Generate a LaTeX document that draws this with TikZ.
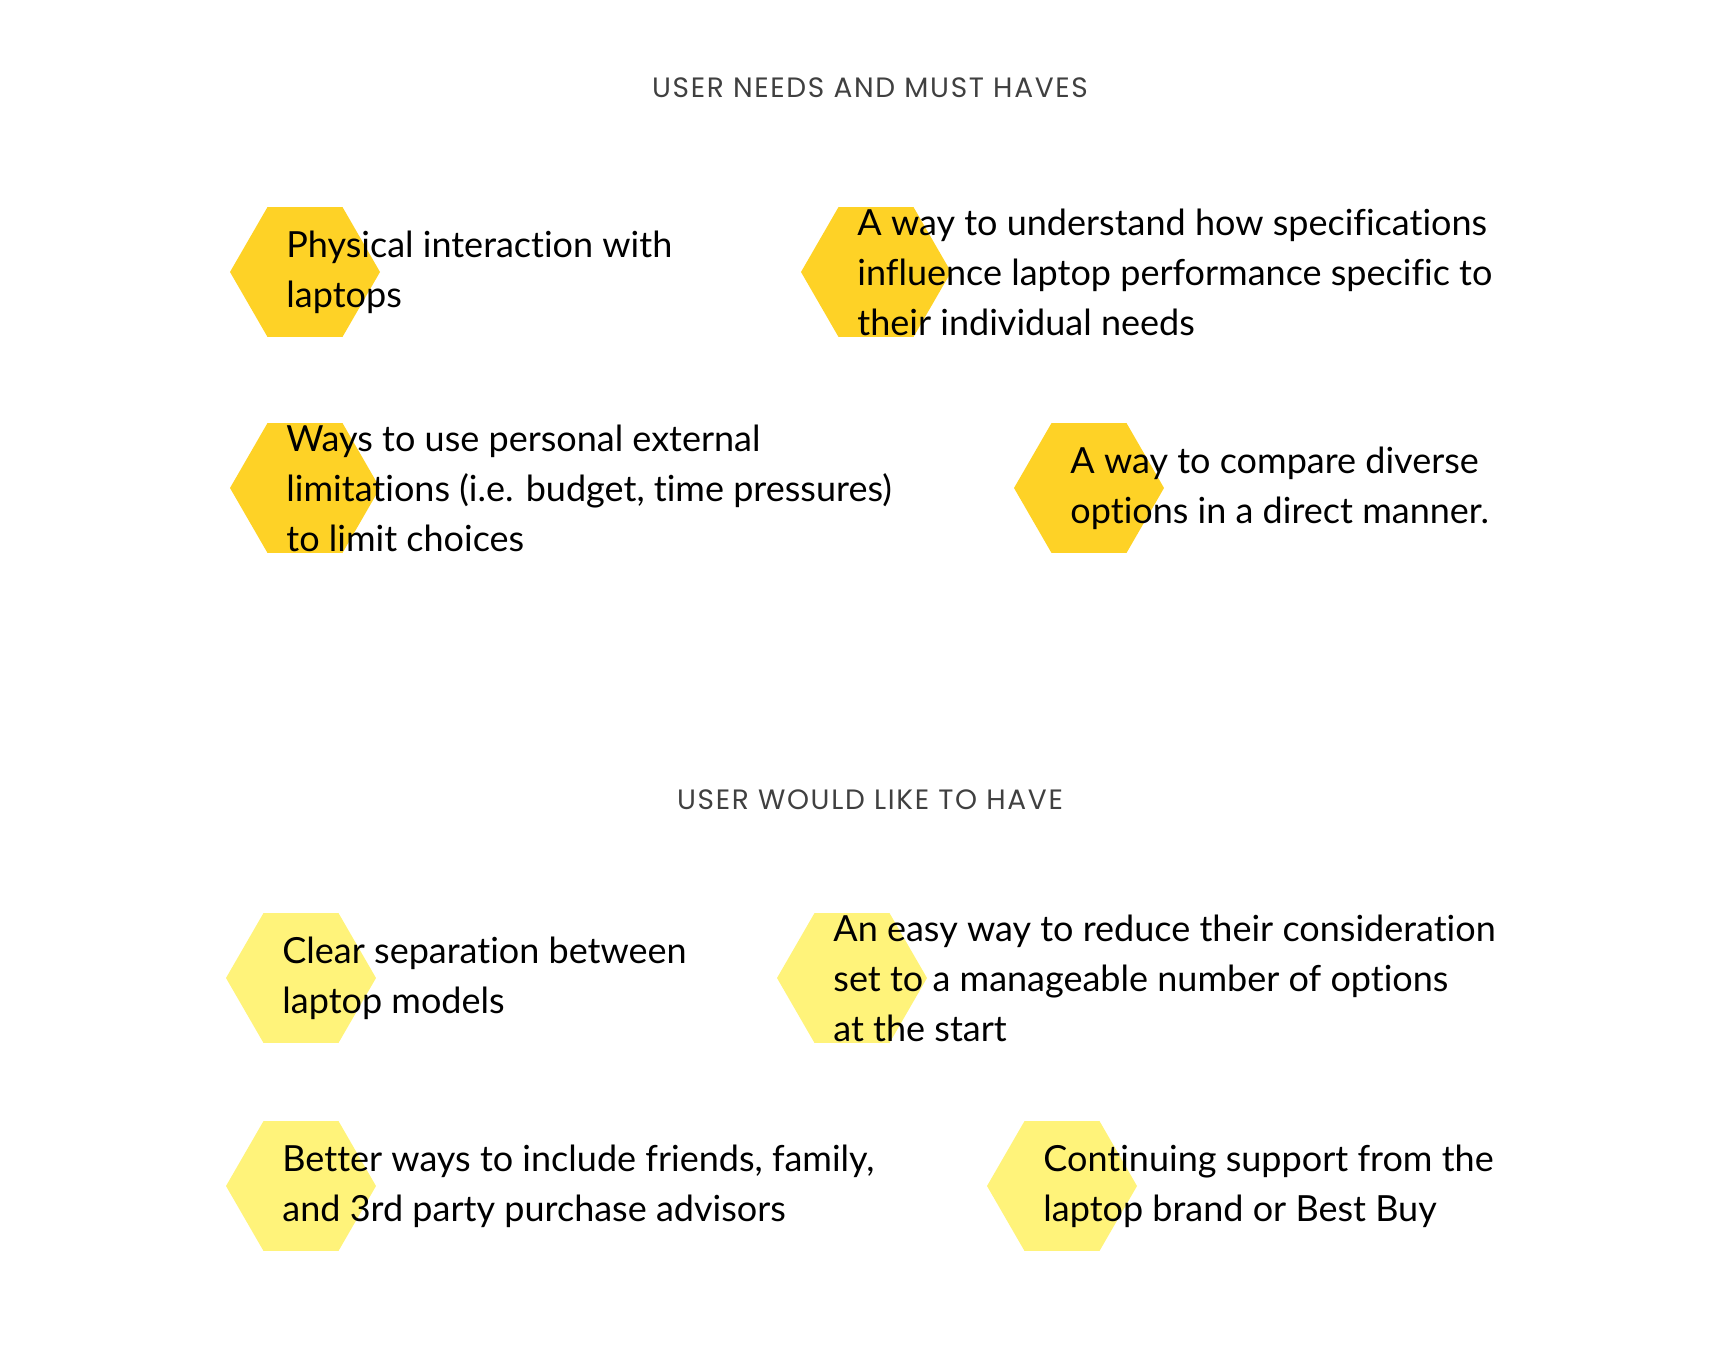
\documentclass[tikz,border=0pt]{standalone}
\usepackage{fontspec}
\setmainfont{Lato}[Ligatures=NoCommon]
\newfontfamily\headfont{Poppins}[LetterSpace=6]
\usetikzlibrary{shapes.geometric,positioning}

\definecolor{mustyellow}{RGB}{254,210,38}
\definecolor{likeyellow}{RGB}{255,243,122}

\tikzset{
  hexa/.style={regular polygon, regular polygon sides=6, minimum size=150pt, inner sep=0pt, draw=none},
  must/.style={hexa, fill=mustyellow},
  like/.style={hexa, fill=likeyellow},
  txt/.style={anchor=west, align=left, inner sep=0pt, font=\fontsize{36}{50}\selectfont},
  head/.style={inner sep=0pt, text=black!75, font=\headfont\fontsize{28}{30}\selectfont}
}

\begin{document}
\begin{tikzpicture}[x=1pt, y=-1pt]
\def \off {-94pt}
\useasboundingbox (0,0) rectangle (1736,1348);

% must haves
\node[head] at (870,88) (h1) {USER NEEDS AND MUST HAVES};

\node[must] at (305,272) (m1) {};
\node[must] at (876,272) (m2) {};
\node[must] at (305,488) (m3) {};
\node[must] at (1089,488) (m4) {};

\node[txt, right=\off of m1] (t1) {Physical interaction with\\laptops};
\node[txt, right=\off of m2] (t2) {A way to understand how specifications\\influence laptop performance specific to\\their individual needs};
\node[txt, right=\off of m3] (t3) {Ways to use personal external\\limitations (i.e. budget, time pressures)\\to limit choices};
\node[txt, right=\off of m4] (t4) {A way to compare diverse\\options in a direct manner.};

% would like
\node[head] at (870,800) (h2) {USER WOULD LIKE TO HAVE};

\node[like] at (301,978) (l1) {};
\node[like] at (852,978) (l2) {};
\node[like] at (301,1186) (l3) {};
\node[like] at (1062,1186) (l4) {};

\node[txt, right=\off of l1] (u1) {Clear separation between\\laptop models};
\node[txt, right=\off of l2] (u2) {An easy way to reduce their consideration\\set to a manageable number of options\\at the start};
\node[txt, right=\off of l3] (u3) {Better ways to include friends, family,\\and 3rd party purchase advisors};
\node[txt, right=\off of l4] (u4) {Continuing support from the\\laptop brand or Best Buy};

\end{tikzpicture}
\end{document}
